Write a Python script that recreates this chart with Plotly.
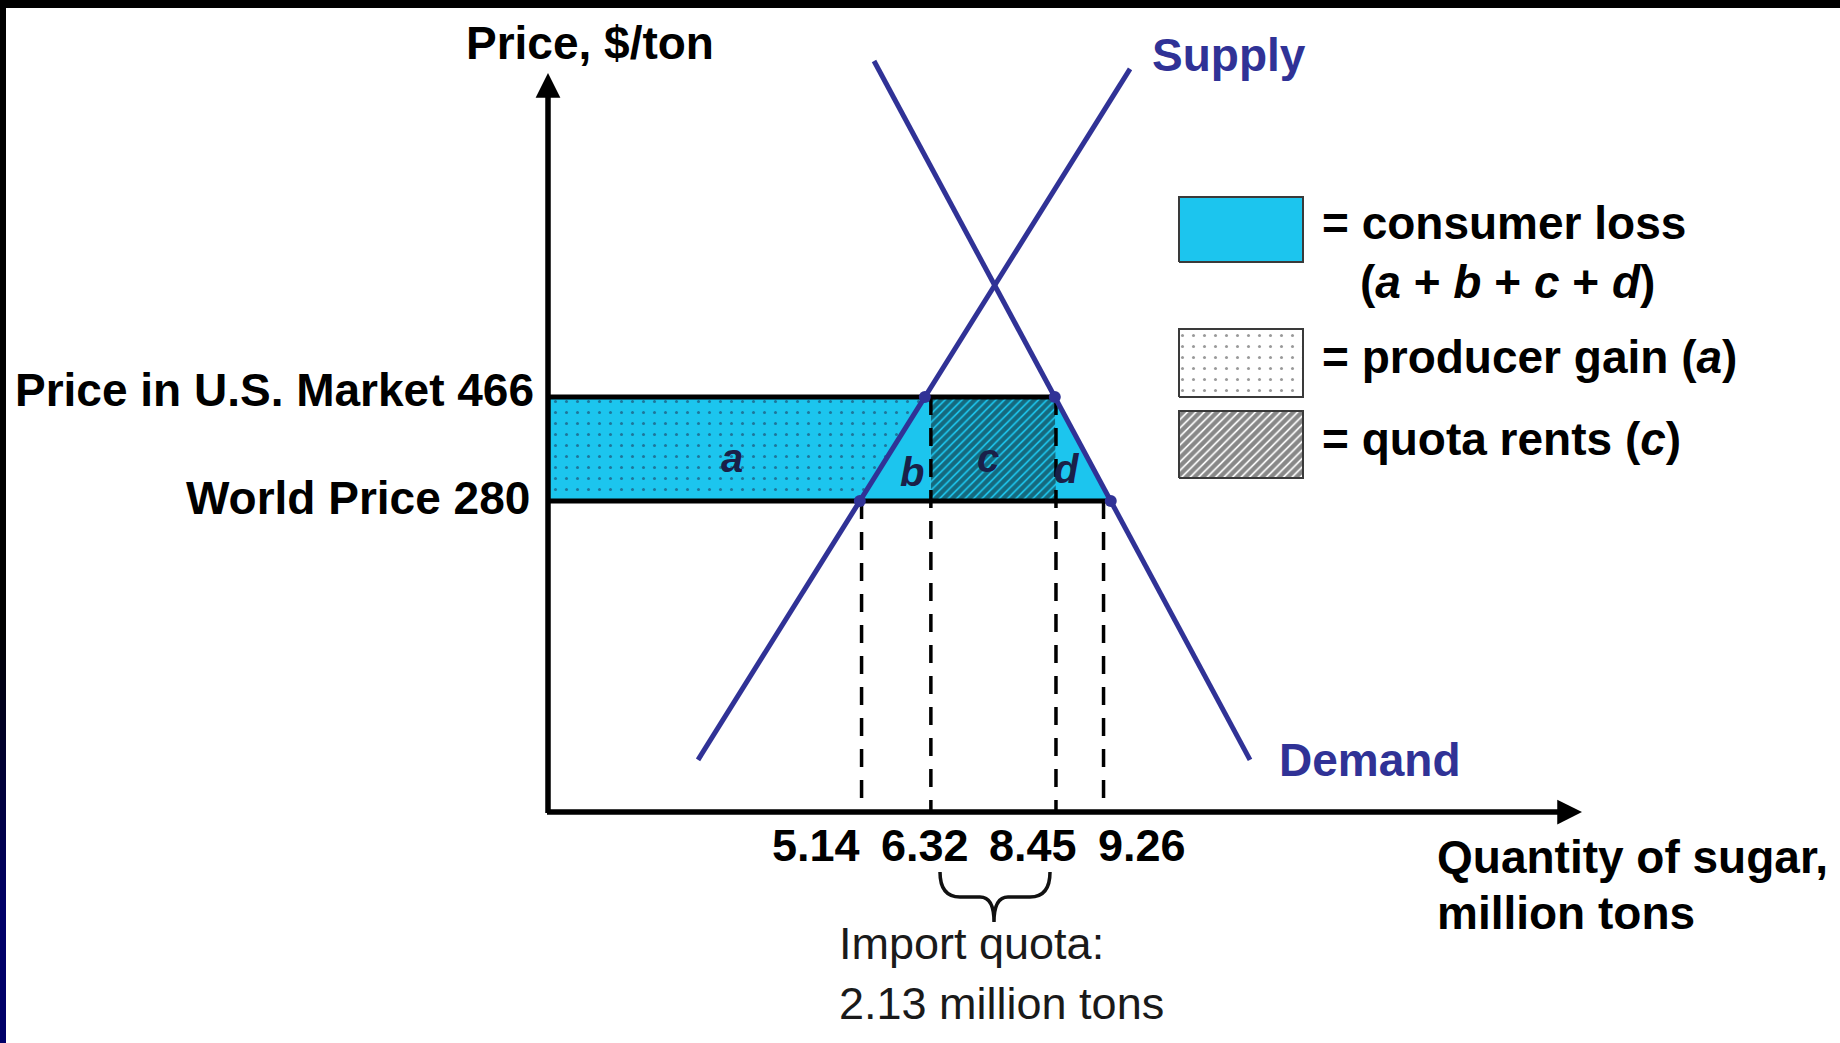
import plotly.graph_objects as go

W, H = 1840, 1043

# ---------------- data ----------------
world_price = 280
us_price = 466
quantities = [5.14, 6.32, 8.45, 9.26]
quantity_labels = ["5.14", "6.32", "8.45", "9.26"]
price_labels = ["Price in U.S. Market 466", "World Price 280"]
supply_q = [2.355, 9.711]      # ends of the drawn supply line (million tons)
supply_p = [-183, 1053]        # ($/ton, schematic axis)
demand_q = [5.352, 11.754]
demand_p = [1067, -183]
region_labels = ["a", "b", "c", "d"]
legend_texts = ["<b>= consumer loss</b>",
                "<b>(<i>a</i> + <i>b</i> + <i>c</i> + <i>d</i>)</b>",
                "<b>= producer gain (<i>a</i>)</b>",
                "<b>= quota rents (<i>c</i>)</b>"]

# ---------------- scale / style ----------------
X_PX0, X_K = 559.7, 58.73          # pixel of q=0, pixels per million tons
Y_PXREF, Y_K = 501.0, 0.5591       # pixel of world price, pixels per $/ton

def qx(px):
    return (px - X_PX0) / X_K

def py(pix):
    return world_price + (Y_PXREF - pix) / Y_K

CYAN = "#1cc5ee"
NAVY = "#303296"
FONT = "Liberation Sans, Arial, sans-serif"

def interp_q(qs, ps, p):
    return qs[0] + (p - ps[0]) * (qs[1] - qs[0]) / (ps[1] - ps[0])

q_axis = qx(548)
p_axis = py(812)

qs_lo = interp_q(supply_q, supply_p, world_price)
qs_hi = interp_q(supply_q, supply_p, us_price)
qd_hi = interp_q(demand_q, demand_p, us_price)
qd_lo = interp_q(demand_q, demand_p, world_price)

fig = go.Figure()

def poly(xs, ys, fillcolor=None, pattern=None, line=None):
    fig.add_trace(go.Scatter(
        x=xs + [xs[0]], y=ys + [ys[0]], mode="lines", fill="toself",
        fillcolor=fillcolor,
        fillpattern=pattern,
        line=line if line else dict(width=0),
        hoverinfo="skip", showlegend=False))

# region a (dotted cyan)
poly([q_axis, qs_lo, qs_hi, q_axis], [world_price, world_price, us_price, us_price],
     fillcolor=CYAN,
     pattern=dict(shape=".", size=11, solidity=0.06, fgcolor="#1d2648", bgcolor=CYAN))
# region b
poly([qs_lo, quantities[1], quantities[1], qs_hi],
     [world_price, world_price, us_price, us_price], fillcolor=CYAN)
# region c (hatched)
poly([quantities[1], quantities[2], quantities[2], quantities[1]],
     [world_price, world_price, us_price, us_price],
     fillcolor=CYAN,
     pattern=dict(shape="/", size=6, solidity=0.72, fgcolor="#0d0d0d", bgcolor=CYAN))
# region d
poly([quantities[2], qd_lo, qd_hi], [world_price, world_price, us_price], fillcolor=CYAN)

# price lines
for p, qe in [(us_price, qd_hi), (world_price, qd_lo)]:
    fig.add_trace(go.Scatter(x=[q_axis, qe], y=[p, p], mode="lines",
                             line=dict(color="black", width=5),
                             hoverinfo="skip", showlegend=False))

# dashed quantity lines
dash_tops = [world_price, us_price, us_price, world_price]
for q, ptop in zip(quantities, dash_tops):
    fig.add_trace(go.Scatter(x=[q, q], y=[ptop, p_axis], mode="lines",
                             line=dict(color="black", width=3.5, dash="18px,13px"),
                             hoverinfo="skip", showlegend=False))

# supply & demand
fig.add_trace(go.Scatter(x=supply_q, y=supply_p, mode="lines",
                         line=dict(color=NAVY, width=5), hoverinfo="skip", showlegend=False))
fig.add_trace(go.Scatter(x=demand_q, y=demand_p, mode="lines",
                         line=dict(color=NAVY, width=5), hoverinfo="skip", showlegend=False))
fig.add_trace(go.Scatter(x=[qs_lo, qs_hi, qd_hi, qd_lo],
                         y=[world_price, us_price, us_price, world_price],
                         mode="markers", marker=dict(color=NAVY, size=12),
                         hoverinfo="skip", showlegend=False))

# legend swatches
sw_x = [qx(1179), qx(1303), qx(1303), qx(1179)]
def sw_y(t, b):
    return [py(b), py(b), py(t), py(t)]
border = dict(color="#3a3a3a", width=2)
poly(sw_x, sw_y(197, 262), fillcolor=CYAN, line=border)
poly(sw_x, sw_y(329, 397), fillcolor="white",
     pattern=dict(shape=".", size=11, solidity=0.06, fgcolor="#333333", bgcolor="white"),
     line=border)
poly(sw_x, sw_y(411, 478), fillcolor="white",
     pattern=dict(shape="/", size=6, solidity=0.72, fgcolor="#111111", bgcolor="white"),
     line=border)

annotations = []

def text(s, x, y, size=46, color="black", xanchor="center", bold=True):
    annotations.append(dict(
        text=("<b>%s</b>" % s) if bold else s, x=qx(x), y=py(y), xref="x", yref="y",
        showarrow=False, xanchor=xanchor, yanchor="middle",
        font=dict(family=FONT, size=size, color=color)))

# axes with arrowheads
annotations.append(dict(x=qx(548), y=py(73), ax=qx(548), ay=py(814.5),
                        xref="x", yref="y", axref="x", ayref="y", text="",
                        showarrow=True, arrowhead=2, arrowsize=0.9, arrowwidth=5.5,
                        arrowcolor="black", standoff=0))
annotations.append(dict(x=qx(1582), y=py(812), ax=qx(545.5), ay=py(812),
                        xref="x", yref="y", axref="x", ayref="y", text="",
                        showarrow=True, arrowhead=2, arrowsize=0.9, arrowwidth=5.5,
                        arrowcolor="black", standoff=0))

text("Price, $/ton", 589.5, 43)
text("Supply", 1150, 55, color=NAVY, xanchor="left")
text("Demand", 1277, 760, color=NAVY, xanchor="left")
text(price_labels[0], 536, 390, xanchor="right")
text(price_labels[1], 532, 498, xanchor="right")

tick_px = [816, 925, 1033, 1142]
for lab, xp in zip(quantity_labels, tick_px):
    text(lab, xp, 845, size=45)

text("Quantity of sugar,", 1435, 857, xanchor="left")
text("million tons", 1435, 913, xanchor="left")
text("Import quota:", 837, 943, size=45, color="#1a1a1a", xanchor="left", bold=False)
text("2.13 million tons", 837, 1003, size=45, color="#1a1a1a", xanchor="left", bold=False)

# region letters
for lab, (xp, yp) in zip(region_labels, [(732, 458), (912, 472), (988, 458), (1067, 469)]):
    text("<i>%s</i>" % lab, xp, yp, size=40, color="#1a2048")

# legend text
for s, (xp, yp) in zip(legend_texts, [(1320, 223), (1358, 282), (1320, 357), (1320, 439)]):
    annotations.append(dict(text=s, x=qx(xp), y=py(yp), xref="x", yref="y",
                            showarrow=False, xanchor="left", yanchor="middle",
                            font=dict(family=FONT, size=46, color="black")))

# brace under the quota
pts = [(940, 872), (940, 897), (960, 897), (980, 897), (994, 897), (994, 922),
       (994, 897), (1008, 897), (1030, 897), (1050, 897), (1050, 872)]
P = [(qx(a), py(b)) for a, b in pts]
brace = ("M{0[0]},{0[1]} Q{1[0]},{1[1]} {2[0]},{2[1]} L{3[0]},{3[1]} "
         "Q{4[0]},{4[1]} {5[0]},{5[1]} Q{6[0]},{6[1]} {7[0]},{7[1]} "
         "L{8[0]},{8[1]} Q{9[0]},{9[1]} {10[0]},{10[1]}").format(*P)

shapes = [dict(type="path", path=brace, xref="x", yref="y",
               line=dict(color="#111111", width=3.5))]

# slide border: top black band and left band fading to navy
shapes.append(dict(type="rect", xref="paper", yref="paper", x0=0, x1=1,
                   y0=1 - 8 / H, y1=1, fillcolor="black", line=dict(width=0)))
shapes.append(dict(type="rect", xref="paper", yref="paper", x0=0, x1=6 / W,
                   y0=0, y1=1, fillcolor="black", line=dict(width=0)))
steps = 14
y_start, y_end = 640, 920
for i in range(steps):
    t0 = y_start + (y_end - y_start) * i / steps
    t1 = y_start + (y_end - y_start) * (i + 1) / steps
    b = int(104 * (i + 1) / steps)
    shapes.append(dict(type="rect", xref="paper", yref="paper", x0=0, x1=6 / W,
                       y0=1 - t1 / H, y1=1 - t0 / H, fillcolor="rgb(0,0,%d)" % b,
                       line=dict(width=0)))
shapes.append(dict(type="rect", xref="paper", yref="paper", x0=0, x1=6 / W,
                   y0=0, y1=1 - y_end / H, fillcolor="rgb(0,0,104)", line=dict(width=0)))

fig.update_layout(
    width=W, height=H, margin=dict(l=0, r=0, t=0, b=0),
    paper_bgcolor="white", plot_bgcolor="white", showlegend=False,
    xaxis=dict(range=[qx(0), qx(W)], visible=False, fixedrange=True),
    yaxis=dict(range=[py(H), py(0)], visible=False, fixedrange=True),
    annotations=annotations, shapes=shapes,
)

fig.write_html("out.html", config={"displayModeBar": False},
               post_script="document.body.style.margin='0';document.body.style.overflow='hidden';")
